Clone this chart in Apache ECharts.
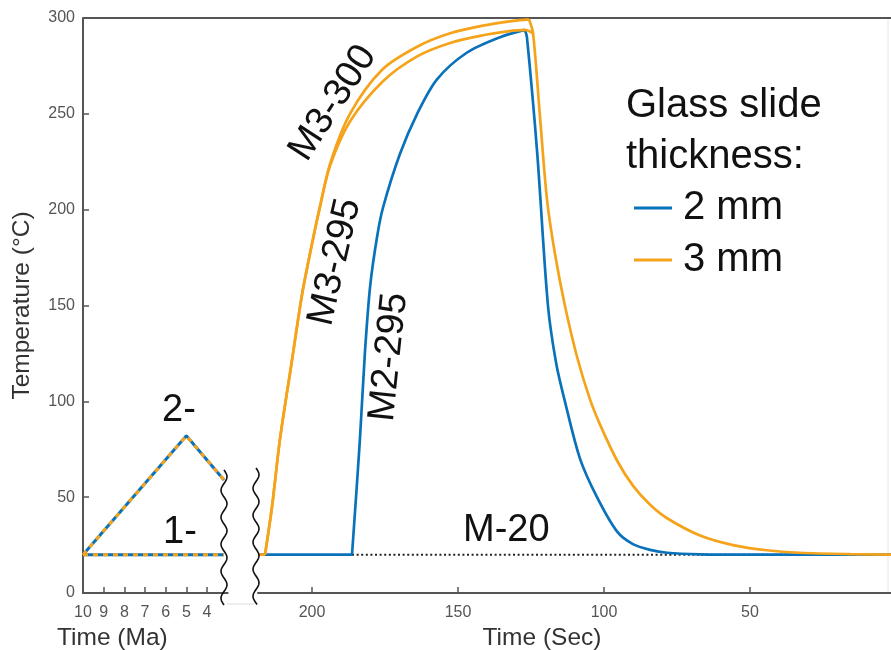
<!DOCTYPE html>
<html lang="en">
<head>
<meta charset="UTF-8">
<title>Glass slide thickness</title>
<script src="https://cdn.jsdelivr.net/npm/echarts@6.0.0/dist/echarts.min.js"></script>
<style>html,body{margin:0;padding:0;background:#fff;}</style>
</head>
<body>
<div id="main" style="width:891px;height:650px;"></div>
<script type="text/javascript">
// tick labels
var maTicks = [10, 9, 8, 7, 6, 5, 4];
var secTicks = [200, 150, 100, 50];
var tempTicks = [0, 50, 100, 150, 200, 250, 300];

// left panel, time in Ma
var path1 = [[10, 20], [3.18, 20]];
var path2 = [[10, 20], [5, 82], [3.18, 59]];

// right panel, time in seconds (counting down)
var m20 = [[186.3, 20], [0, 20]];

var blueFlat = [[218.5, 20], [186.3, 20]];
var blueRise = [[186.3, 20], [183.6, 80], [181.9, 125], [180.1, 160], [177.7, 186], [175.7, 201],
    [169.9, 229], [164, 250], [157.2, 268], [146.9, 282], [135.6, 290], [127.1, 293.8]];
var blueFall = [[127.1, 293.8], [126.4, 290], [122.9, 230], [119.2, 150], [116.4, 120], [113.4, 100],
    [108.2, 70], [102.4, 50], [95.5, 32], [90.1, 25.5], [84.2, 22.5], [78.4, 21],
    [67.1, 20.2], [50, 20], [0, 20]];

var orangeFlat = [[218.5, 20], [216.1, 20]];
var m3_300Rise = [[216.1, 20], [213.7, 45], [211, 80], [207, 120], [203.5, 155], [200.7, 177], [197.5, 200],
    [193.8, 224], [187, 250], [176, 273], [164, 285], [152.7, 292], [141.4, 296], [131, 298.5], [125.7, 299.3]];
var m3_295Rise = [[216.1, 20], [213.7, 45], [211, 80], [207, 120], [203.5, 155], [200.7, 177], [197.5, 200],
    [193.8, 223], [187, 246], [175.7, 267], [164, 280], [152.7, 287], [141.4, 291], [133, 293], [127.1, 293.8], [124.3, 292]];
var orangeFall = [[125.7, 299.3], [124.3, 292], [121.9, 248], [119.5, 205], [116.8, 177], [113.4, 150],
    [109.2, 123], [104.8, 101], [101.4, 88], [95.5, 69], [90.1, 56], [84.2, 46], [78.4, 39], [67.1, 30],
    [55.8, 25], [44.2, 22.3], [32.9, 21], [15.8, 20.3], [0, 20]];

var BLUE = '#0A72BA';
var ORANGE = '#F5A31A';
var AXIS = '#555';
var FONT = 'Liberation Sans, Arial, Helvetica, sans-serif';

function wave(cx, y0, y1) {
    var pts = [];
    for (var y = y0; y <= y1; y += 1.5) {
        pts.push([cx + 3 * Math.sin(2 * Math.PI * (y - y0) / 27), y]);
    }
    return pts;
}

function line(name, data, color, xi, opts) {
    var s = {
        name: name, type: 'line', data: data, xAxisIndex: xi, yAxisIndex: xi,
        symbol: 'none', silent: true, animation: false,
        itemStyle: {color: color},
        lineStyle: {color: color, width: 2.7}
    };
    opts = opts || {};
    for (var k in opts) {
        if (k === 'lineStyle') {
            for (var j in opts.lineStyle) s.lineStyle[j] = opts.lineStyle[j];
        } else s[k] = opts[k];
    }
    return s;
}

var smoothOpts = function (z) {
    return {smooth: 0.3, z: z};
};

var myChart = echarts.init(document.getElementById('main'));

var axisCommon = {
    axisLine: {show: true, lineStyle: {color: AXIS, width: 2}},
    axisTick: {inside: true, length: 6, lineStyle: {color: AXIS, width: 1.5}},
    splitLine: {show: false},
    axisLabel: {color: AXIS, fontSize: 16, fontFamily: FONT}
};
var nameStyle = {fontSize: 24.5, color: '#333', fontFamily: FONT};

var option = {
    backgroundColor: '#fff',
    textStyle: {fontFamily: FONT},
    title: {
        text: 'Glass slide\nthickness:',
        left: 626, top: 80, padding: 0,
        textStyle: {fontSize: 40, fontWeight: 'normal', color: '#111', lineHeight: 51, fontFamily: FONT}
    },
    legend: {
        data: ['2 mm', '3 mm'],
        orient: 'vertical',
        left: 634, top: 188, padding: 0,
        icon: 'rect',
        itemWidth: 38, itemHeight: 3, itemGap: 12,
        selectedMode: false,
        textStyle: {fontSize: 40, color: '#111', lineHeight: 38, fontFamily: FONT, padding: [0, 0, 0, 6]}
    },
    grid: [
        {left: 83, top: 18, width: 144.7, height: 575, outerBoundsMode: 'none', containLabel: false},
        {left: 258, top: 18, right: -5, height: 575, outerBoundsMode: 'none', containLabel: false}
    ],
    xAxis: [
        Object.assign({}, axisCommon, {
            gridIndex: 0, type: 'value', inverse: true, min: 3, max: 10, interval: 1,
            axisTick: Object.assign({}, axisCommon.axisTick, {customValues: maTicks}),
            axisLabel: Object.assign({}, axisCommon.axisLabel, {customValues: maTicks, margin: 12}),
            name: 'Time (Ma)', nameLocation: 'middle', nameGap: 33,
            nameTextStyle: Object.assign({}, nameStyle, {padding: [0, 86, 0, 0]})
        }),
        Object.assign({}, axisCommon, {
            gridIndex: 1, type: 'value', inverse: true, min: 0, max: 218.5, interval: 50,
            axisTick: Object.assign({}, axisCommon.axisTick, {customValues: secTicks}),
            axisLabel: Object.assign({}, axisCommon.axisLabel, {customValues: secTicks, margin: 12}),
            name: 'Time (Sec)', nameLocation: 'middle', nameGap: 33,
            nameTextStyle: Object.assign({}, nameStyle, {padding: [0, 70, 0, 0]})
        })
    ],
    yAxis: [
        Object.assign({}, axisCommon, {
            gridIndex: 0, type: 'value', min: 0, max: 300, interval: 50,
            axisLabel: Object.assign({}, axisCommon.axisLabel, {margin: 8, customValues: tempTicks}),
            name: 'Temperature (\u00B0C)', nameLocation: 'middle', nameGap: 48,
            nameTextStyle: nameStyle
        }),
        {gridIndex: 1, type: 'value', min: 0, max: 300, show: false}
    ],
    series: [
        line('M-20', m20, '#222', 1, {lineStyle: {type: [2, 2.6], width: 2}, z: 1}),
        line('2 mm', blueFlat, BLUE, 1, {z: 2}),
        line('2 mm', blueRise, BLUE, 1, smoothOpts(2)),
        line('2 mm', blueFall, BLUE, 1, smoothOpts(2)),
        line('3 mm', m3_295Rise, ORANGE, 1, smoothOpts(3)),
        line('3 mm', orangeFlat, ORANGE, 1, {z: 3}),
        line('3 mm', m3_300Rise, ORANGE, 1, smoothOpts(3)),
        line('3 mm', orangeFall, ORANGE, 1, smoothOpts(3)),
        line('1-', path1, BLUE, 0, {lineStyle: {width: 3}, z: 4}),
        line('1-', path1, ORANGE, 0, {lineStyle: {width: 3, type: [5, 5]}, z: 5}),
        line('2-', path2, BLUE, 0, {lineStyle: {width: 3}, z: 4}),
        line('2-', path2, ORANGE, 0, {lineStyle: {width: 3, type: [5, 5]}, z: 5})
    ],
    graphic: [
        {type: 'line', shape: {x1: 83, y1: 18, x2: 891, y2: 18}, style: {stroke: AXIS, lineWidth: 2}, silent: true},
        {type: 'line', shape: {x1: 888, y1: 19, x2: 888, y2: 592}, style: {stroke: '#e6e6e6', lineWidth: 1}, silent: true},
        {type: 'line', shape: {x1: 227, y1: 604, x2: 254, y2: 604}, style: {stroke: '#ddd', lineWidth: 1}, silent: true},
        {type: 'polyline', shape: {points: wave(224, 470, 605)}, style: {stroke: '#111', lineWidth: 1.6, fill: null}, silent: true, z: 10},
        {type: 'polyline', shape: {points: wave(256, 468, 605)}, style: {stroke: '#111', lineWidth: 1.6, fill: null}, silent: true, z: 10},
        {type: 'text', x: 333, y: 103, rotation: 57 * Math.PI / 180,
            style: {text: 'M3-300', fontSize: 38, fill: '#111', fontFamily: FONT, align: 'center', verticalAlign: 'middle'}},
        {type: 'text', x: 335, y: 262, rotation: 77 * Math.PI / 180,
            style: {text: 'M3-295', fontSize: 38, fill: '#111', fontFamily: FONT, align: 'center', verticalAlign: 'middle'}},
        {type: 'text', x: 389, y: 357, rotation: 84 * Math.PI / 180,
            style: {text: 'M2-295', fontSize: 38, fill: '#111', fontFamily: FONT, align: 'center', verticalAlign: 'middle'}},
        {type: 'text', x: 162, y: 411,
            style: {text: '2-', fontSize: 38, fill: '#111', fontFamily: FONT, align: 'left', verticalAlign: 'middle'}},
        {type: 'text', x: 163, y: 533,
            style: {text: '1-', fontSize: 38, fill: '#111', fontFamily: FONT, align: 'left', verticalAlign: 'middle'}},
        {type: 'text', x: 463, y: 531,
            style: {text: 'M-20', fontSize: 38, fill: '#111', fontFamily: FONT, align: 'left', verticalAlign: 'middle'}}
    ]
};
myChart.setOption(option);
</script>
</body>
</html>
